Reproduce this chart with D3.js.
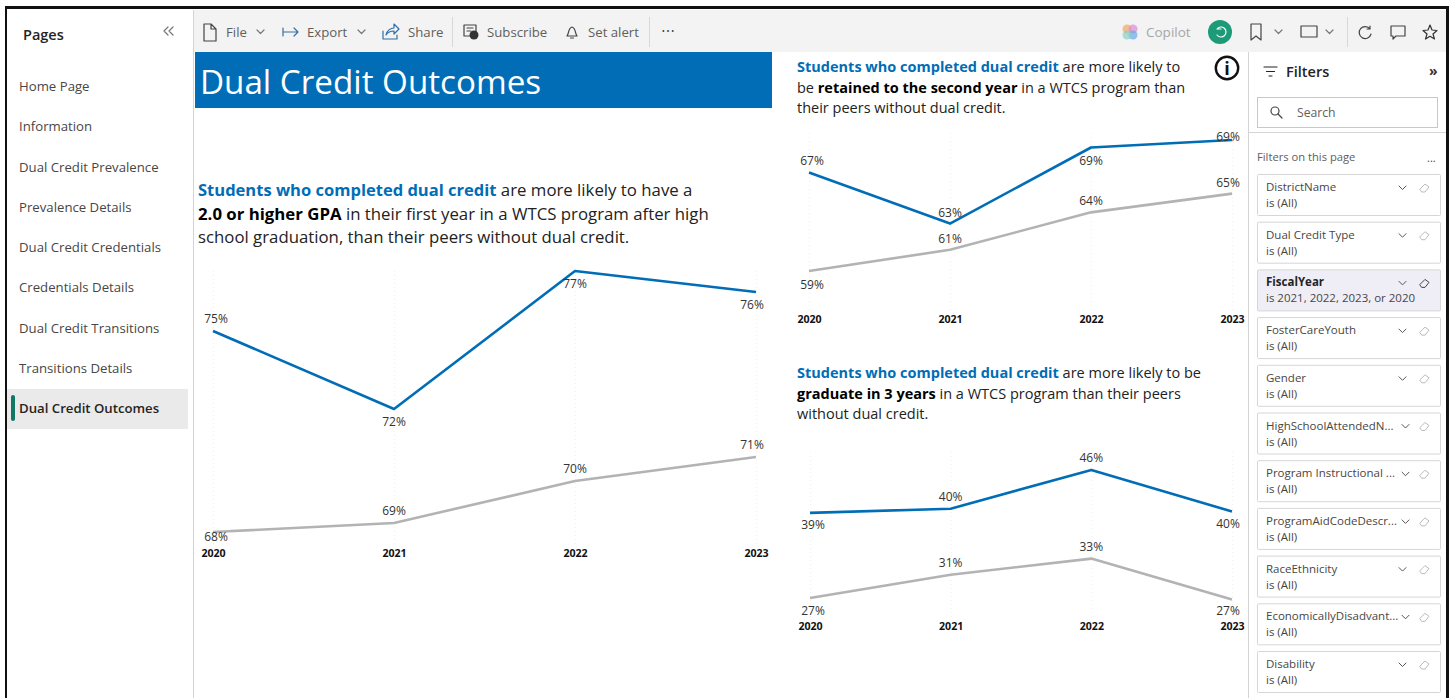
<!DOCTYPE html>
<html>
<head>
<meta charset="utf-8">
<script src="https://cdn.jsdelivr.net/npm/d3@7"></script>
<style>
    html, body { margin: 0; padding: 0; background: #fff; overflow: hidden; }
    svg { display: block; }
    text { font-family: "Open Sans", "Noto Sans", sans-serif; }
    .icon { fill: none; stroke: #444; stroke-width: 1.2; stroke-linejoin: round; stroke-linecap: round; }
    .grid line { stroke: #f0f0f0; stroke-dasharray: 1 3; }
    .grid path { display: none; }
    .years path { display: none; }
    .years text { font-size: 10.6px; font-weight: 700; fill: #111; font-family: "Open Sans", sans-serif; }
    .pct { font-size: 12px; fill: #333; text-anchor: middle; dominant-baseline: central; }
</style>
</head>
<body>
<script>
    // chart values
    const years = ["2020", "2021", "2022", "2023"];

    const gpaDual = [75.0, 72.4, 77.0, 76.3];
    const gpaPeers = [68.3, 68.6, 70.0, 70.8];
    const retainedDual = [66.8, 62.7, 68.8, 69.4];
    const retainedPeers = [58.9, 60.6, 63.6, 65.1];
    const gradDual = [39.4, 40.0, 45.5, 39.6];
    const gradPeers = [27.3, 30.6, 32.9, 27.1];

    // which side of the line each label sits on
    const gpaDualSide = ["up", "down", "down", "down"];
    const gpaPeersSide = ["down", "up", "up", "up"];
    const retainedDualSide = ["up", "up", "down", "up"];
    const retainedPeersSide = ["down", "up", "up", "up"];
    const gradDualSide = ["down", "up", "up", "down"];
    const gradPeersSide = ["down", "up", "up", "down"];

    const pageNames = ["Home Page", "Information", "Dual Credit Prevalence", "Prevalence Details", "Dual Credit Credentials",
        "Credentials Details", "Dual Credit Transitions", "Transitions Details", "Dual Credit Outcomes"];
    const filterNames = ["DistrictName", "Dual Credit Type", "FiscalYear", "FosterCareYouth", "Gender", "HighSchoolAttendedN...",
        "Program Instructional ...", "ProgramAidCodeDescr...", "RaceEthnicity", "EconomicallyDisadvant...", "Disability"];
    const filterValues = ["is (All)", "is (All)", "is 2021, 2022, 2023, or 2020", "is (All)", "is (All)", "is (All)",
        "is (All)", "is (All)", "is (All)", "is (All)", "is (All)"];

    const blue = "#006db6", gray = "#b3b3b3", ink = "#3b3a39";

    const svg = d3.select("body").append("svg").attr("width", 1451).attr("height", 698);

    function label(g, x, y, str, size, color, weight) {
        return g.append("text").attr("x", x).attr("y", y).text(str)
            .style("font-size", size + "px").style("fill", color || ink).style("font-weight", weight || 400);
    }

    function icon(d, tx, ty, stroke) {
        return svg.append("path").attr("class", "icon").attr("d", d)
            .attr("transform", `translate(${tx},${ty})`).style("stroke", stroke || "#444");
    }

    const chevron = "M0 0L3.5 3.5L7 0";

    // toolbar and panels
    svg.append("rect").attr("x", 194).attr("y", 10).attr("width", 1252).attr("height", 42).attr("fill", "#f3f3f3");
    svg.append("rect").attr("x", 193).attr("y", 10).attr("width", 1).attr("height", 688).attr("fill", "#d4d4d4");
    svg.append("rect").attr("x", 1248).attr("y", 52).attr("width", 1).attr("height", 646).attr("fill", "#d4d4d4");
    svg.append("rect").attr("x", 1249).attr("y", 132).attr("width", 197).attr("height", 1).attr("fill", "#d4d4d4");

    // pages panel
    label(svg, 23, 40, "Pages", 14.5, "#252423", 600);
    icon("M4 0L0 4L4 8M9 0L5 4L9 8", 164, 27, "#777");
    svg.append("rect").attr("x", 7).attr("y", 389).attr("width", 181).attr("height", 40).attr("fill", "#eaeaea");
    svg.append("rect").attr("x", 11).attr("y", 395).attr("width", 4).attr("height", 26).attr("rx", 2).attr("fill", "#117865");
    const pageY = d3.scalePoint().domain(pageNames).range([86, 408]);
    pageNames.forEach((p, i) => {
        const last = i === pageNames.length - 1;
        label(svg, 19, pageY(p) + 5, p, 13.2, last ? "#252423" : "#484644", last ? 600 : 400);
    });

    // toolbar items
    icon("M0 0H7L12 5V17H0ZM7 0V5H12", 204, 24);
    label(svg, 226, 37, "File", 13.2, "#605e5c");
    icon(chevron, 257, 30, "#777");
    icon("M0 -4V4M0 0H15M11 -4L15 0L11 4", 283, 32, "#3a6ea5");
    label(svg, 307, 37, "Export", 13.2, "#605e5c");
    icon(chevron, 358, 30, "#777");
    icon("M0 7V15H14V11M3 11C4 6 8 4 11 4V0L16 5L11 10V7C8 7 5 8 3 11Z", 383, 24, "#2f6ea8");
    label(svg, 408, 37, "Share", 13.2, "#605e5c");
    svg.append("rect").attr("x", 452).attr("y", 17).attr("width", 1).attr("height", 30).attr("fill", "#d8d8d8");
    icon("M12 10V1H0V12H7M3 4H9M3 7H7", 464, 24);
    svg.append("circle").attr("cx", 474).attr("cy", 35).attr("r", 4.5).attr("fill", "#333");
    label(svg, 487, 37, "Subscribe", 13.2, "#605e5c");
    icon("M0 10C2 8 1 2 5 1C9 2 8 8 10 10ZM3.5 12H6.5", 567, 26);
    label(svg, 588, 37, "Set alert", 13.2, "#605e5c");
    svg.append("rect").attr("x", 649).attr("y", 17).attr("width", 1).attr("height", 30).attr("fill", "#d8d8d8");
    label(svg, 661, 36, "\u22EF", 14, "#444");

    // right side of the toolbar
    const copilot = d3.scaleOrdinal().range(["#f2a65a", "#d98ad8", "#6aa8e8", "#8ad0c8"]);
    [[-3, -3], [3, -3], [3, 3], [-3, 3]].forEach((o, i) => {
        svg.append("circle").attr("cx", 1130 + o[0]).attr("cy", 32 + o[1]).attr("r", 4.5)
            .attr("fill", copilot(i)).attr("opacity", 0.7);
    });
    label(svg, 1146, 37, "Copilot", 13.5, "#a6a6a6");
    svg.append("circle").attr("cx", 1220).attr("cy", 32).attr("r", 12).attr("fill", "#1d9a78");
    icon("M-4 -3A5 5 0 1 1 -4 3M-4 -3H0", 1221, 32, "#fff");
    icon("M0 0H10V16L5 12L0 16Z", 1251, 24);
    icon(chevron, 1275, 30, "#777");
    icon("M0 0H16V11H0Z", 1301, 26);
    icon(chevron, 1326, 30, "#777");
    svg.append("rect").attr("x", 1347).attr("y", 17).attr("width", 1).attr("height", 30).attr("fill", "#d8d8d8");
    icon("M11 3A6 6 0 1 0 12 8M11 0V3H8", 1359, 26);
    icon("M0 0H14V10H5L2 13V10H0Z", 1391, 26);
    icon("M7 0L9 5L14 5.5L10 9L11.5 14L7 11.3L2.5 14L4 9L0 5.5L5 5Z", 1423, 25, "#333");

    // title band
    svg.append("rect").attr("x", 195).attr("y", 52).attr("width", 577).attr("height", 56).attr("fill", blue);
    label(svg, 200, 94, "Dual Credit Outcomes", 33.2, "#fff");

    // headings
    function heading(x, lineYs, size, blueSize, lines) {
        lines.forEach((parts, i) => {
            const t = svg.append("text").attr("x", x).attr("y", lineYs[i]).style("font-size", size + "px").style("fill", "#222");
            parts.forEach(p => {
                t.append("tspan").text(p[0]).style("font-weight", p[1] ? 700 : 400)
                    .style("font-size", (p[1] === "b" ? blueSize : size) + "px")
                    .style("fill", p[1] === "b" ? blue : p[1] ? "#000" : "#222");
            });
        });
    }
    heading(198, [196, 220, 243], 16.8, 16.55, [
        [["Students who completed dual credit", "b"], [" are more likely to have a"]],
        [["2.0 or higher GPA", "k"], [" in their first year in a WTCS program after high"]],
        [["school graduation, than their peers without dual credit."]]
    ]);
    heading(797, [72, 93, 113], 14.5, 14.5, [
        [["Students who completed dual credit", "b"], [" are more likely to"]],
        [["be "], ["retained to the second year", "k"], [" in a WTCS program than"]],
        [["their peers without dual credit."]]
    ]);
    heading(797, [378, 399, 419], 14.5, 14.5, [
        [["Students who completed dual credit", "b"], [" are more likely to be"]],
        [["graduate in 3 years", "k"], [" in a WTCS program than their peers"]],
        [["without dual credit."]]
    ]);

    // info icon
    svg.append("circle").attr("cx", 1227).attr("cy", 68).attr("r", 11.2).attr("fill", "#fff").attr("stroke", "#111").attr("stroke-width", 2.4);
    label(svg, 1227, 74.5, "i", 18, "#111", 700).attr("text-anchor", "middle");

    // the three line charts
    const line = (x, y) => d3.line().x((d, i) => x(years[i])).y(d => y(d));

    function drawChart(c) {
        const x = d3.scalePoint().domain(years).range(c.xRange);
        const y = d3.scaleLinear().domain(c.yDomain).range(c.yRange);
        const g = svg.append("g");

        g.append("g").attr("class", "grid").attr("transform", `translate(0,${c.axisY})`)
            .call(d3.axisBottom(x).tickSize(-(c.axisY - c.gridTop)).tickFormat(""));
        g.append("g").attr("class", "years").attr("transform", `translate(0,${c.axisY})`)
            .call(d3.axisBottom(x).tickSize(0))
            .selectAll("text").attr("dy", 0).attr("y", 13);
        g.selectAll(".years line").remove();

        c.series.forEach(s => {
            g.append("path").datum(s.values).attr("d", line(x, y))
                .attr("fill", "none").attr("stroke", s.color).attr("stroke-width", 2.6).attr("stroke-linejoin", "round");
            s.values.forEach((v, i) => {
                const py = y(v) + (s.side[i] === "up" ? c.upGap : c.downGap);
                const dx = i === 0 ? 3 : i === years.length - 1 ? -4 : 0;
                g.append("text").attr("class", "pct")
                    .attr("x", x(years[i]) + dx)
                    .attr("y", Math.max(c.labelTop, Math.min(c.labelBottom, py)))
                    .text(d3.format(".0f")(v) + "%");
            });
        });
    }

    drawChart({
        xRange: [213, 756], yDomain: [68.3, 77.0], yRange: [532, 271], axisY: 544, gridTop: 270, labelTop: 0, labelBottom: 536, upGap: -13, downGap: 12.5,
        series: [{ values: gpaDual, color: blue, side: gpaDualSide }, { values: gpaPeers, color: gray, side: gpaPeersSide }]
    });
    drawChart({
        xRange: [809, 1232], yDomain: [58.9, 69.4], yRange: [271, 140], axisY: 310, gridTop: 130, labelTop: 136, labelBottom: 300, upGap: -11.5, downGap: 13,
        series: [{ values: retainedDual, color: blue, side: retainedDualSide }, { values: retainedPeers, color: gray, side: retainedPeersSide }]
    });
    drawChart({
        xRange: [810, 1232], yDomain: [27.3, 45.5], yRange: [598, 470], axisY: 617, gridTop: 450, labelTop: 0, labelBottom: 610, upGap: -12.5, downGap: 12,
        series: [{ values: gradDual, color: blue, side: gradDualSide }, { values: gradPeers, color: gray, side: gradPeersSide }]
    });

    // filters panel
    icon("M0 0H13M2.5 4.5H10.5M5 9H8", 1264, 67, "#222");
    label(svg, 1286, 77, "Filters", 14.5, "#252423", 600);
    label(svg, 1429, 76, "\u00BB", 14, "#333", 700);
    svg.append("rect").attr("x", 1257.5).attr("y", 97.5).attr("width", 180).attr("height", 30).attr("fill", "#fff").attr("stroke", "#c8c8c8");
    svg.append("circle").attr("cx", 1275).attr("cy", 111).attr("r", 4).attr("fill", "none").attr("stroke", "#444").attr("stroke-width", 1.2);
    icon("M0 0L4 4", 1278, 114);
    label(svg, 1297, 117, "Search", 12.2, "#605e5c");
    label(svg, 1257, 161, "Filters on this page", 11.2, "#605e5c");
    label(svg, 1427, 162, "...", 11, "#444");

    const cardY = d3.scalePoint().domain(filterNames).range([174, 651]);
    const eraser = "M0 6L5 1L9 4L5 9H2Z";
    filterNames.forEach((f, i) => {
        const top = cardY(f), active = f === "FiscalYear";
        svg.append("rect").attr("x", 1257.5).attr("y", top + 0.5).attr("width", 183).attr("height", 41)
            .attr("rx", 1).attr("fill", active ? "#efeef7" : "#fff").attr("stroke", "#d6d6d6");
        label(svg, 1266, top + 17, f, 11.5, active ? "#252423" : "#484644", active ? 700 : 400);
        label(svg, 1266, top + 33, filterValues[i], 11.5, "#484644");
        icon(chevron, f.endsWith("...") ? 1402 : 1399, top + 12, "#555").style("stroke-width", 1);
        icon(eraser, 1420, top + 9, active ? "#444" : "#bbb").style("stroke-width", 1);
    });

    // black screenshot frame
    svg.append("rect").attr("x", 0).attr("y", 0).attr("width", 1451).attr("height", 6).attr("fill", "#fff");
    svg.append("rect").attr("x", 5).attr("y", 6).attr("width", 1444).attr("height", 3).attr("fill", "#111");
    svg.append("rect").attr("x", 5).attr("y", 6).attr("width", 2).attr("height", 692).attr("fill", "#111");
    svg.append("rect").attr("x", 1446).attr("y", 6).attr("width", 3).attr("height", 692).attr("fill", "#111");
</script>
</body>
</html>
